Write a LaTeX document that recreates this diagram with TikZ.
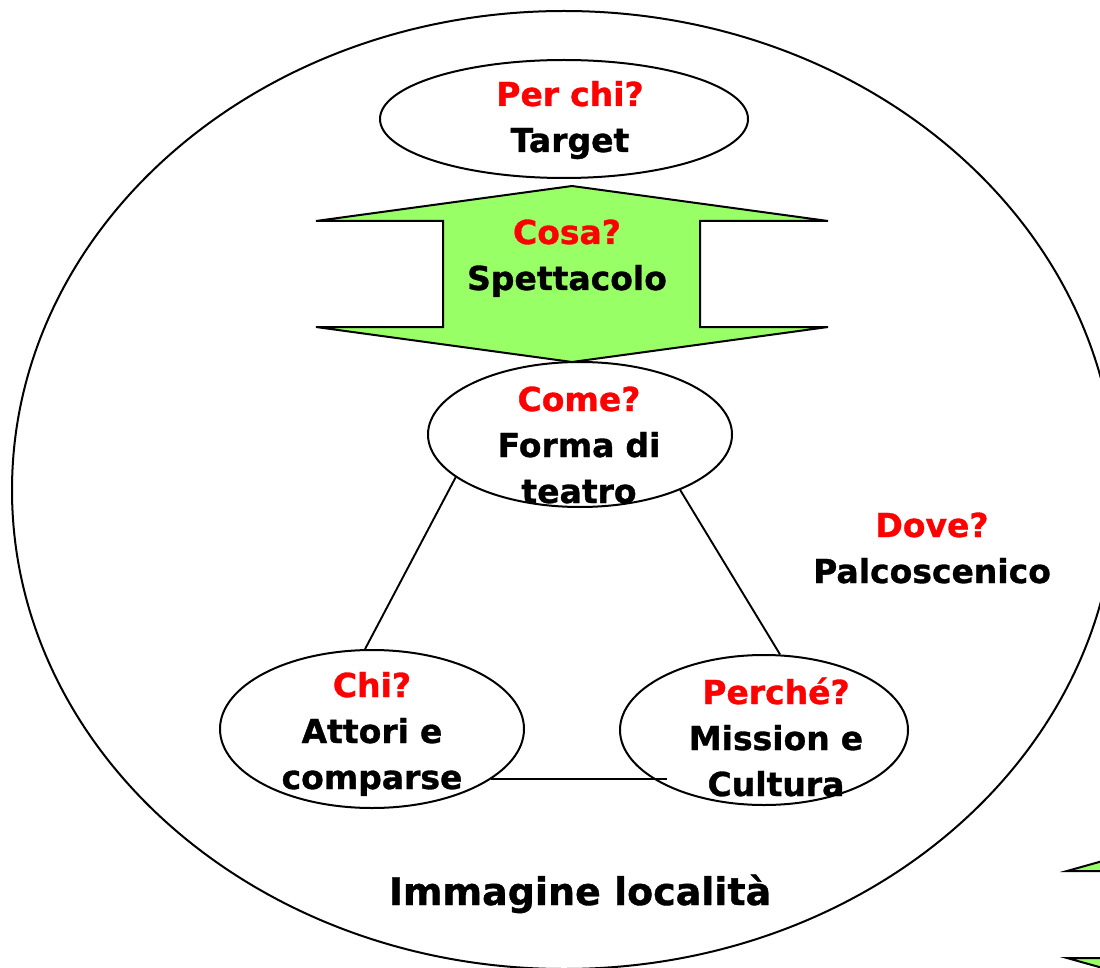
\documentclass[tikz,border=0pt]{standalone}
\usepackage{fontspec}
\setmainfont{DejaVu Sans}[BoldFeatures={FakeBold=1}]
\usetikzlibrary{shapes.geometric}
\definecolor{arrowgreen}{RGB}{153,255,102}
\tikzset{
  oval/.style={ellipse, draw=black, line width=2pt, inner sep=0pt},
  txt/.style={font=\bfseries\fontsize{33}{46}\selectfont, align=center, text width=320pt, inner sep=0pt, anchor=base},
  conn/.style={draw=black, line width=1.9pt},
  greenshape/.style={fill=arrowgreen, draw=black, line width=2pt, line join=miter}
}
\begin{document}
\begin{tikzpicture}[x=1pt, y=-1pt]
\useasboundingbox (0,0) rectangle (1100,968);
\clip (0,0) rectangle (1100,968);
\fill[white] (0,0) rectangle (1100,968);
% big ellipse
\node[oval, minimum width=1104pt, minimum height=958pt] (big) at (564,490) {};
% bottom-right partial green shape
\draw[greenshape] (1067,871) -- (1167,843) -- (1167,871) -- cycle;
\draw[greenshape] (1067,958) -- (1167,958) -- (1167,986) -- cycle;
% ellipses
\node[oval, minimum width=368pt, minimum height=118pt] (perchi) at (564,119) {};
\node[oval, minimum width=304pt, minimum height=145pt] (come) at (580,434.5) {};
\node[oval, minimum width=304pt, minimum height=158pt] (chi) at (372,729) {};
\node[oval, minimum width=288pt, minimum height=150pt] (perche) at (764,730) {};
% Cosa double arrow
\draw[greenshape] (316,221) -- (572,186) -- (828,221) -- (700,221) -- (700,327) -- (828,327)
  -- (572,362) -- (316,327) -- (443,327) -- (443,221) -- cycle;
% connectors
\draw[conn] (come.199) -- (chi.95);
\draw[conn] (come.331) -- (perche.78);
\draw[conn] (chi.337) -- (chi.337 -| perche.210);
% texts
\node[txt] (tperchi) at (570,106) {\textcolor{red}{Per chi?}\\Target};
\node[txt] (tcosa) at (567,244) {\textcolor{red}{Cosa?}\\Spettacolo};
\node[txt] (tcome) at (579,411) {\textcolor{red}{Come?}\\Forma di\\teatro};
\node[txt] (tchi) at (372,697) {\textcolor{red}{Chi?}\\Attori e\\comparse};
\node[txt] (tperche) at (776,704) {\textcolor{red}{Perché?}\\Mission e\\Cultura};
\node[txt] (tdove) at (932,537) {\textcolor{red}{Dove?}\\Palcoscenico};
\node[font=\bfseries\fontsize{38}{46}\selectfont, inner sep=0pt, anchor=base] (timm) at (580,905) {Immagine località};
\end{tikzpicture}
\end{document}
